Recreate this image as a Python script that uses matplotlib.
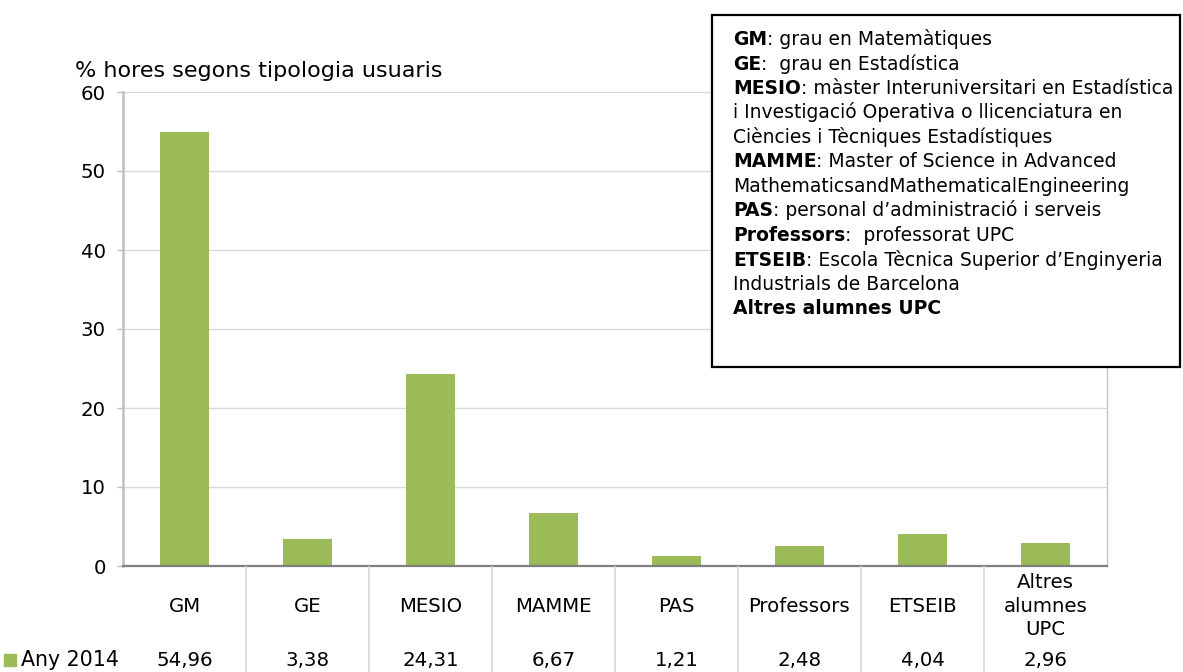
import matplotlib
matplotlib.use("Agg")
import matplotlib.pyplot as plt
from matplotlib.patches import Rectangle
from matplotlib.lines import Line2D
from matplotlib.text import Annotation
from matplotlib.transforms import blended_transform_factory

# ---- data ----
categories = ["GM", "GE", "MESIO", "MAMME", "PAS", "Professors", "ETSEIB",
              "Altres\nalumnes\nUPC"]
values = [54.96, 3.38, 24.31, 6.67, 1.21, 2.48, 4.04, 2.96]
series_name = "Any 2014"
y_ticks = [0, 10, 20, 30, 40, 50, 60]
title = "% hores segons tipologia usuaris"

glossary = [
    ("GM", ": grau en Matemàtiques"),
    ("GE", ":  grau en Estadística"),
    ("MESIO", ": màster Interuniversitari en Estadística"),
    ("", "i Investigació Operativa o llicenciatura en"),
    ("", "Ciències i Tècniques Estadístiques"),
    ("MAMME", ": Master of Science in Advanced"),
    ("", "MathematicsandMathematicalEngineering"),
    ("PAS", ": personal d’administració i serveis"),
    ("Professors", ":  professorat UPC"),
    ("ETSEIB", ": Escola Tècnica Superior d’Enginyeria"),
    ("", "Industrials de Barcelona"),
    ("Altres alumnes UPC", ""),
]

# ---- style ----
W, H = 1183, 672
BAR = "#9BBB59"
GRID = "#D9D9D9"
plt.rcParams["font.family"] = ["DejaVu Sans"]
TXT = 13.5       # glossary box
TAB = 14.2       # data table and tick labels


def fx(px):
    return px / W


def fy(py):
    return 1 - py / H


fig = plt.figure(figsize=(W / 100, H / 100), dpi=100)
ax = fig.add_axes([fx(123), fy(566), fx(1107 - 123), (566 - 92) / H])

x = list(range(len(categories)))
ax.bar(x, values, width=0.4, color=BAR, zorder=2)
ax.set_xlim(-0.5, len(categories) - 0.5)
ax.set_ylim(0, 60)
ax.set_yticks(y_ticks)
ax.set_xticks([])
ax.tick_params(axis="y", length=4.5, width=1.0, color="#BFBFBF", pad=8,
               labelsize=TAB, labelcolor="black")
ax.yaxis.grid(True, color=GRID, lw=1.0)
ax.set_axisbelow(True)
ax.spines["top"].set_visible(False)
ax.spines["left"].set_color("#BFBFBF")
ax.spines["left"].set_linewidth(1.8)
ax.spines["bottom"].set_color("#7F7F7F")
ax.spines["bottom"].set_linewidth(1.6)
ax.spines["right"].set_color("#BFBFBF")
ax.spines["right"].set_linewidth(0.9)

fig.text(fx(75), fy(77), title, fontsize=16, va="baseline", ha="left")

# ---- data table under the axis ----
trans = blended_transform_factory(ax.transData, fig.transFigure)
for i in range(len(categories) - 1):
    fig.add_artist(Line2D([i + 0.5, i + 0.5], [fy(567), 0], transform=trans,
                          color=GRID, lw=1.3))
for i, (cat, v) in enumerate(zip(categories, values)):
    ax.text(i, fy(606), cat, transform=trans, ha="center", va="center",
            fontsize=TAB, linespacing=1.32, clip_on=False)
    ax.text(i, fy(660), f"{v:.2f}".replace(".", ","), transform=trans,
            ha="center", va="center", fontsize=TAB, clip_on=False)

fig.add_artist(Rectangle((fx(4), fy(666)), fx(12), 12 / H,
                         transform=fig.transFigure, color=BAR))
fig.text(fx(21), fy(660), series_name, fontsize=TAB + 0.6, va="center",
         ha="left")

# ---- glossary box ----
fig.add_artist(Rectangle((fx(712), fy(367)), fx(1180 - 712), (367 - 15) / H,
                         transform=fig.transFigure, facecolor="white",
                         edgecolor="black", lw=1.6, zorder=5))
for k, (bold, rest) in enumerate(glossary):
    y = fy(45 + 24.5 * k)
    if bold:
        t = fig.text(fx(733), y, bold, fontsize=TXT, fontweight="bold",
                     va="baseline", ha="left", zorder=6)
        if rest:
            a = Annotation(rest, xy=(1, 0), xycoords=t, va="bottom",
                           ha="left", fontsize=TXT, zorder=6)
            fig.add_artist(a)
    else:
        fig.text(fx(733), y, rest, fontsize=TXT, va="baseline", ha="left",
                 zorder=6)

fig.savefig("out.png", dpi=100)
